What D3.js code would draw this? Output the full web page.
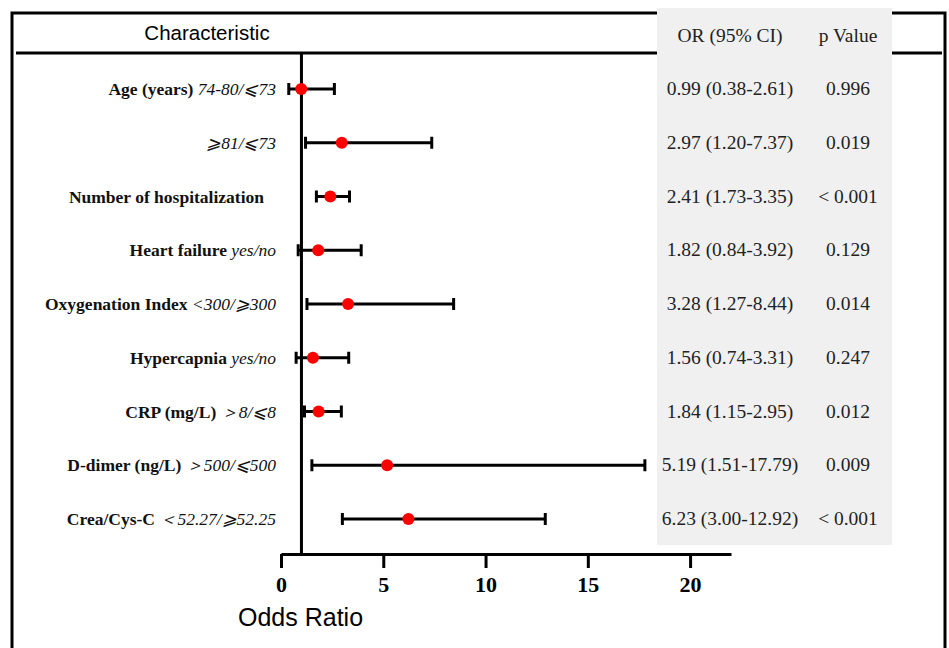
<!DOCTYPE html>
<html>
<head>
<meta charset="utf-8">
<script src="https://cdn.jsdelivr.net/npm/d3@7"></script>
<style>
body { margin: 0; background: #fff; }
svg { display: block; }
</style>
</head>
<body>
<svg width="949" height="648"></svg>
<script>
// forest plot data
const labelBold = ['Age (years) ', '', 'Number of hospitalization', 'Heart failure ', 'Oxygenation Index ',
	'Hypercapnia ', 'CRP (mg/L) ', 'D-dimer (ng/L) ', 'Crea/Cys-C ']
const labelItalic = ['74-80/⩽73', '⩾81/⩽73', '', 'yes/no', '<300/⩾300',
	'yes/no', '＞8/⩽8', '＞500/⩽500', '＜52.27/⩾52.25']
const orValue = [0.99, 2.97, 2.41, 1.82, 3.28, 1.56, 1.84, 5.19, 6.23]
const ciLow = [0.38, 1.20, 1.73, 0.84, 1.27, 0.74, 1.15, 1.51, 3.00]
const ciHigh = [2.61, 7.37, 3.35, 3.92, 8.44, 3.31, 2.95, 17.79, 12.92]
const pValue = ['0.996', '0.019', '< 0.001', '0.129', '0.014', '0.247', '0.012', '0.009', '< 0.001']
const xTicks = [0, 5, 10, 15, 20]

const rows = orValue.map((v, i) => ({
	i: i,
	bold: labelBold[i],
	ital: labelItalic[i],
	or: v,
	lo: ciLow[i],
	hi: ciHigh[i],
	p: pValue[i]
}))

const serif = '"Liberation Serif", "Times New Roman", serif'
const sans = '"Liberation Sans", Arial, sans-serif'

let svg = d3.select('svg')

let scX = d3.scaleLinear().domain([0, 22]).range([281, 731])
let scY = d3.scalePoint().domain(rows.map(d => d.i)).range([89, 519])

// frame
let frame = svg.append('g').attr('stroke', '#000').attr('stroke-width', 3).attr('fill', 'none')
frame.append('path').attr('d', 'M12 648 V13 H657 M892 13 H945 V648')
frame.append('path').attr('d', 'M16 53 H657 M892 53 H942')

// grey table panel
svg.append('rect')
	.attr('x', 657).attr('y', 8)
	.attr('width', 235).attr('height', 537)
	.attr('fill', '#f0f0f0')

svg.append('text')
	.attr('x', 207).attr('y', 40)
	.attr('text-anchor', 'middle')
	.attr('font-family', sans).attr('font-size', 20.5)
	.text('Characteristic')

svg.append('text')
	.attr('x', 730).attr('y', 42)
	.attr('text-anchor', 'middle')
	.attr('font-family', serif).attr('font-size', 19.5).attr('fill', '#222')
	.text('OR (95% CI)')

svg.append('text')
	.attr('x', 848).attr('y', 42)
	.attr('text-anchor', 'middle')
	.attr('font-family', serif).attr('font-size', 19.5).attr('fill', '#222')
	.text('p Value')

// row labels
let lab = svg.append('g')
	.selectAll('text')
	.data(rows).enter()
	.append('text')
	.attr('x', d => d.ital ? 276 : 264)
	.attr('y', d => scY(d.i) + 6)
	.attr('text-anchor', 'end')
	.attr('font-family', serif).attr('font-size', 17.5).attr('fill', '#111')

lab.append('tspan').attr('font-weight', 'bold').text(d => d.bold)
lab.append('tspan').attr('font-style', 'italic').text(d => d.ital)

// table values
svg.append('g')
	.selectAll('text')
	.data(rows).enter()
	.append('text')
	.attr('x', 730)
	.attr('y', d => scY(d.i) + 6)
	.attr('text-anchor', 'middle')
	.attr('font-family', serif).attr('font-size', 19.5).attr('fill', '#222')
	.text(d => `${d.or.toFixed(2)} (${d.lo.toFixed(2)}-${d.hi.toFixed(2)})`)

svg.append('g')
	.selectAll('text')
	.data(rows).enter()
	.append('text')
	.attr('x', 848)
	.attr('y', d => scY(d.i) + 6)
	.attr('text-anchor', 'middle')
	.attr('font-family', serif).attr('font-size', 19.5).attr('fill', '#222')
	.text(d => d.p)

// x axis
let axis = svg.append('g')
	.attr('transform', 'translate(0,554)')
	.call(d3.axisBottom(scX).tickValues(xTicks).tickSize(14).tickSizeOuter(0).tickPadding(8))

axis.select('.domain').attr('stroke', '#000').attr('stroke-width', 3)
axis.selectAll('.tick line').attr('stroke', '#000').attr('stroke-width', 3)
axis.selectAll('.tick text')
	.attr('font-family', serif).attr('font-size', 22).attr('font-weight', 'bold').attr('fill', '#000')

svg.append('text')
	.attr('x', 238).attr('y', 626)
	.attr('font-family', sans).attr('font-size', 25)
	.text('Odds Ratio')

// reference line at OR = 1
svg.append('line')
	.attr('x1', scX(1)).attr('x2', scX(1))
	.attr('y1', 53).attr('y2', 554)
	.attr('stroke', '#000').attr('stroke-width', 3)

// CI whiskers
let ci = svg.append('g').attr('stroke', '#000').attr('stroke-width', 3)

ci.selectAll('line.ci')
	.data(rows).enter()
	.append('line').attr('class', 'ci')
	.attr('x1', d => scX(d.lo)).attr('x2', d => scX(d.hi))
	.attr('y1', d => scY(d.i)).attr('y2', d => scY(d.i))

ci.selectAll('line.lo')
	.data(rows).enter()
	.append('line').attr('class', 'lo')
	.attr('x1', d => scX(d.lo)).attr('x2', d => scX(d.lo))
	.attr('y1', d => scY(d.i) - 6).attr('y2', d => scY(d.i) + 6)

ci.selectAll('line.hi')
	.data(rows).enter()
	.append('line').attr('class', 'hi')
	.attr('x1', d => scX(d.hi)).attr('x2', d => scX(d.hi))
	.attr('y1', d => scY(d.i) - 6).attr('y2', d => scY(d.i) + 6)

// point estimates
svg.append('g')
	.selectAll('circle')
	.data(rows).enter()
	.append('circle')
	.attr('cx', d => scX(d.or))
	.attr('cy', d => scY(d.i))
	.attr('r', 6)
	.attr('fill', '#f00')
</script>
</body>
</html>
